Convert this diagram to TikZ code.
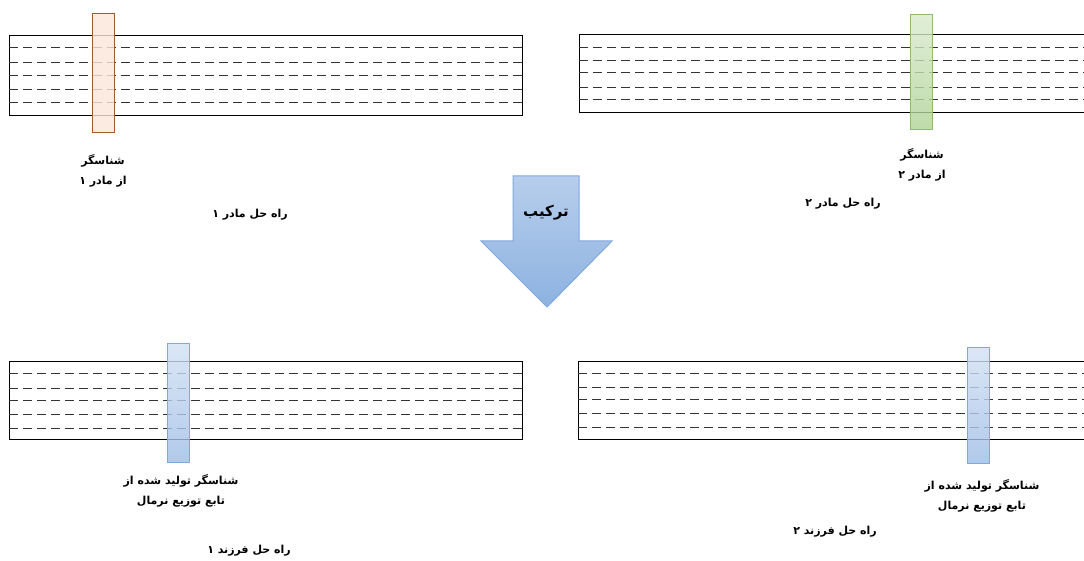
\documentclass[tikz,border=0pt]{standalone}
\usepackage{fontspec}
\newfontfamily\farsi[Script=Arabic]{DejaVu Sans}
\TeXXeTstate=1
\usetikzlibrary{positioning}

\definecolor{orangeline}{HTML}{A9582A}
\definecolor{orangefill}{HTML}{FBE6D8}
\definecolor{greenline}{HTML}{8DBB70}
\definecolor{greentop}{HTML}{D8EACD}
\definecolor{greenbot}{HTML}{AED194}
\definecolor{blueline}{HTML}{7FA8DC}
\definecolor{bluetop}{HTML}{D3E1F3}
\definecolor{bluebot}{HTML}{9DBCE5}
\definecolor{arrowtop}{HTML}{B7CEEC}
\definecolor{arrowbot}{HTML}{8DB2E1}

\tikzset{
  solution/.style = {draw=black, line width=1pt},
  slot/.style     = {dashed, dash pattern=on 9pt off 5pt, draw=black!80, line width=1pt},
  gene/.style     = {rectangle, line width=1pt, inner sep=0pt,
                     minimum width=22pt, fill opacity=0.8},
  parentA/.style  = {gene, draw=orangeline, fill=orangefill},
  parentB/.style  = {gene, draw=greenline, top color=greentop, bottom color=greenbot},
  normal/.style   = {gene, draw=blueline, top color=bluetop, bottom color=bluebot},
  caption/.style  = {font=\farsi\bfseries\fontsize{11}{20}\selectfont, align=center}
}

\begin{document}
\begin{tikzpicture}[x=1pt, y=-1pt]
  \useasboundingbox (0,0) rectangle (1084,561);
  \clip (0,0) rectangle (1084,561);

  % parent 1
  \draw[solution] (9,36) rectangle (522,116);
  \foreach \y in {48,63,76,90,103}
    \draw[slot] (9,\y) -- (522,\y);
  \node[parentA, minimum height=119pt] (g1) at (103.5,73.5) {};
  \node[caption] (l1) at (103,171) {\beginR شناسگر\endR\\\beginR از مادر ۱\endR};
  \node[caption] (s1) at (250,215) {\beginR راه حل مادر ۱\endR};

  % parent 2
  \draw[solution] (579,35) -- (1090,35) (1090,113) -- (579,113) -- (579,35);
  \foreach \y in {48,61,73,88,100}
    \draw[slot] (579,\y) -- (1090,\y);
  \node[parentB, minimum height=115pt] (g2) at (921,72.5) {};
  \node[caption] (l2) at (922,165) {\beginR شناسگر\endR\\\beginR از مادر ۲\endR};
  \node[caption] (s2) at (843,204) {\beginR راه حل مادر ۲\endR};

  % crossover
  \draw[blueline, line width=1pt, top color=arrowtop, bottom color=arrowbot]
    (513,176) -- (579,176) -- (579,241) -- (612,241) -- (547,307)
    -- (481,241) -- (513,241) -- cycle;
  \node[caption, font=\farsi\bfseries\fontsize{15}{18}\selectfont] (mix) at (546,213)
    {\beginR ترکیب\endR};

  % child 1
  \draw[solution] (9,361) rectangle (522,439);
  \foreach \y in {373,388,400,414,428}
    \draw[slot] (9,\y) -- (522,\y);
  \node[normal, minimum height=119pt] (g3) at (178,402.5) {};
  \node[caption] (l3) at (181,491) {\beginR شناسگر تولید شده از\endR\\\beginR تابع توزیع نرمال\endR};
  \node[caption] (s3) at (249,551) {\beginR راه حل فرزند ۱\endR};

  % child 2
  \draw[solution] (578,361) -- (1090,361) (1090,439) -- (578,439) -- (578,361);
  \foreach \y in {373,387,399,413,427}
    \draw[slot] (578,\y) -- (1090,\y);
  \node[normal, minimum height=116pt] (g4) at (978,405) {};
  \node[caption] (l4) at (982,496) {\beginR شناسگر تولید شده از\endR\\\beginR تابع توزیع نرمال\endR};
  \node[caption] (s4) at (835,532) {\beginR راه حل فرزند ۲\endR};
\end{tikzpicture}
\end{document}
